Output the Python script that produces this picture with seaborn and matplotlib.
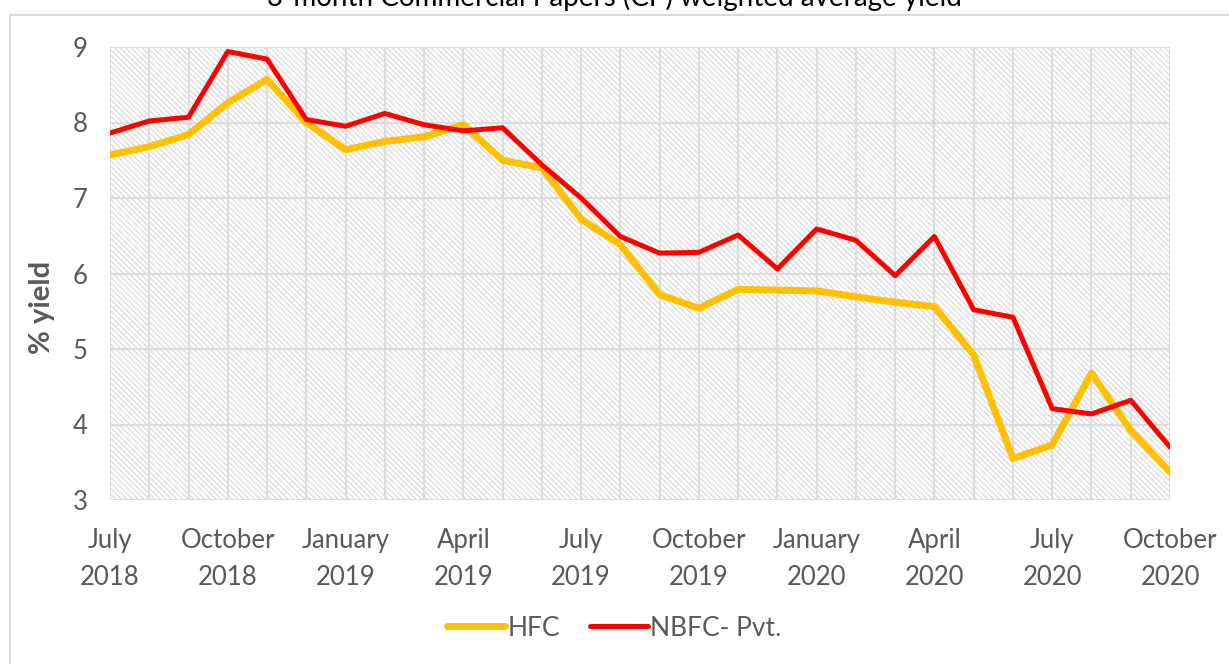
import matplotlib
matplotlib.use("Agg")
import matplotlib.pyplot as plt
import matplotlib.patches as mpatches
import seaborn as sns
import pandas as pd

sns.set_style("white")
plt.rcParams["font.family"] = ["Lato", "DejaVu Sans"]
plt.rcParams["hatch.linewidth"] = 1.0
plt.rcParams["hatch.color"] = "#dcdcdc"

# monthly yields, July 2018 .. October 2020
months = pd.period_range("2018-07", "2020-10", freq="M")
hfc = [7.57, 7.68, 7.84, 8.26, 8.57, 8.00, 7.64, 7.75, 7.81, 7.97, 7.50, 7.40,
       6.72, 6.38, 5.72, 5.54, 5.79, 5.78, 5.77, 5.69, 5.62, 5.56, 4.92, 3.55,
       3.73, 4.68, 3.92, 3.37]
nbfc = [7.86, 8.02, 8.07, 8.94, 8.84, 8.04, 7.95, 8.12, 7.97, 7.89, 7.93, 7.44,
        7.00, 6.49, 6.27, 6.28, 6.51, 6.06, 6.59, 6.44, 5.97, 6.49, 5.52, 5.42,
        4.21, 4.14, 4.32, 3.70]
tick_labels = ["July\n2018", "October\n2018", "January\n2019", "April\n2019",
               "July\n2019", "October\n2019", "January\n2020", "April\n2020",
               "July\n2020", "October\n2020"]

df = pd.DataFrame({
    "month": list(range(len(months))) * 2,
    "yield": hfc + nbfc,
    "series": ["HFC"] * len(hfc) + ["NBFC- Pvt."] * len(nbfc),
})

fig = plt.figure(figsize=(12.29, 6.64), dpi=100)
ax = fig.add_axes([110 / 1229, 1 - 500 / 664, 1060 / 1229, 453 / 664])

# hatched plot area
ax.add_patch(mpatches.Rectangle((0, 0), 1, 1, transform=ax.transAxes,
                                facecolor="white", edgecolor="#dcdcdc",
                                hatch="\\\\\\\\\\\\", lw=0, zorder=0))

sns.lineplot(data=df, x="month", y="yield", hue="series",
             palette={"HFC": "#FFC000", "NBFC- Pvt.": "#FF0000"},
             ax=ax, legend=False, zorder=3)
ax.lines[0].set_linewidth(5.0)
ax.lines[1].set_linewidth(3.6)

ax.set_xlim(0, len(months) - 1)
ax.set_ylim(3, 9)
ax.set_xticks(range(0, len(months), 3))
ax.set_xticks(range(len(months)), minor=True)
ax.set_xticklabels(tick_labels, linespacing=1.6)
ax.set_yticks(range(3, 10))
ax.grid(True, which="both", color="#dcdcdc", lw=1.5, zorder=1)
ax.set_axisbelow(True)
for s in ax.spines.values():
    s.set_visible(False)
ax.tick_params(axis="both", which="both", length=0, labelsize=18.5, colors="#595959")
ax.tick_params(axis="x", pad=20)
ax.tick_params(axis="y", pad=16)
ax.set_xlabel("")
ax.set_ylabel("% yield", fontsize=21, fontweight="bold", color="#595959")
ax.yaxis.set_label_coords((55 - 110) / 1060, (500 - 307) / 453)

# legend
handles = [plt.Line2D([], [], color="#FFC000", lw=5.0, solid_capstyle="round"),
           plt.Line2D([], [], color="#FF0000", lw=3.6, solid_capstyle="round")]
fig.legend(handles, ["HFC", "NBFC- Pvt."], loc="center", bbox_to_anchor=(0.5, 1 - 628 / 664),
           ncol=2, frameon=False, fontsize=19, labelcolor="#595959",
           handlelength=2.2, handletextpad=0.1, columnspacing=1.1)

# chart border and clipped title
fig.add_artist(plt.Line2D([10 / 1229, 10 / 1229], [0, 1 - 15 / 664], color="#d9d9d9", lw=1.5))
fig.add_artist(plt.Line2D([10 / 1229, 1], [1 - 15 / 664, 1 - 15 / 664], color="#d9d9d9", lw=1.5))
fig.text(0.5, 1 - 6 / 664, "3-month Commercial Papers (CP) weighted average yield",
         ha="center", va="baseline", fontsize=20, color="#000000")

fig.savefig("out.png", dpi=100)
